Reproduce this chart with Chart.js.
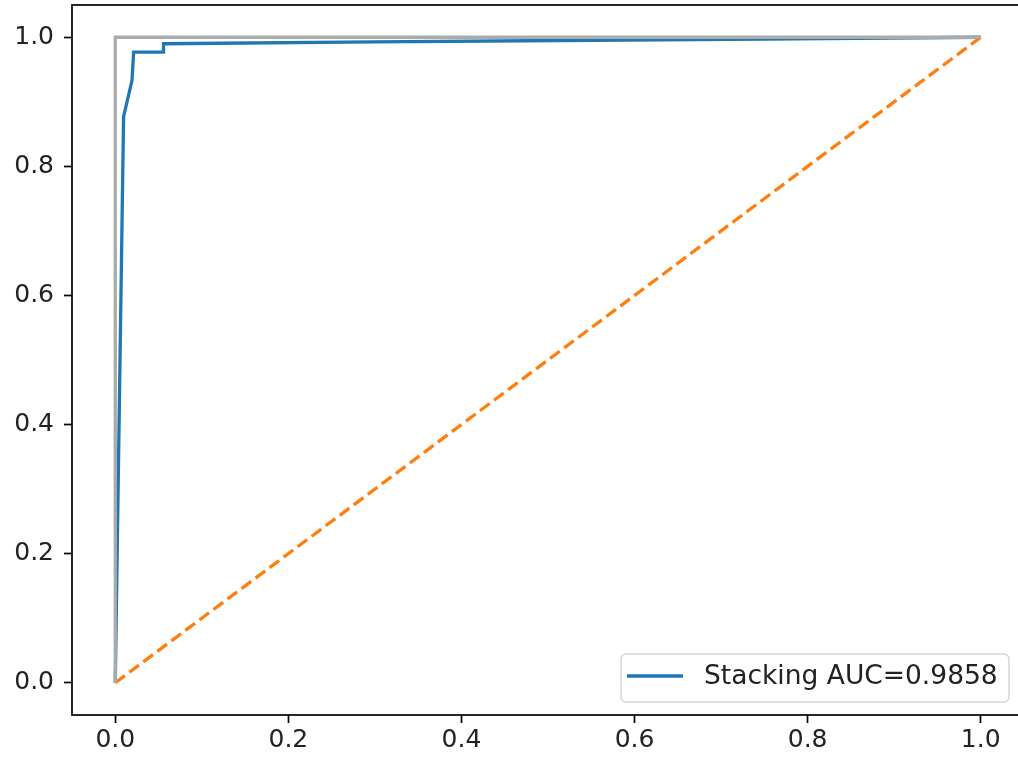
<!DOCTYPE html>
<html lang="en">
<head>
  <meta charset="UTF-8">
  <title>ROC curve</title>
  <script src="https://cdn.jsdelivr.net/npm/chart.js"></script>
  <style>
    html, body {
      margin: 0;
      padding: 0;
      overflow: hidden;
      background: #fff;
    }
    #chart-container {
      position: relative;
      width: 1030px;
      height: 763px;
    }
  </style>
</head>
<body>
  <div id="chart-container">
    <canvas id="myChart"></canvas>
  </div>

  <script>
    // ROC curve of the stacking model
    const fpr = [0, 0.0096, 0.0193, 0.0212, 0.0558, 0.0558, 0.30, 0.514, 0.75, 1.0];
    const tpr = [0, 0.877, 0.933, 0.977, 0.977, 0.990, 0.993, 0.995, 0.997, 1.0];
    const rocLabel = 'Stacking AUC=0.9858';

    // chance diagonal and perfect classifier
    const diagX = [0, 1];
    const diagY = [0, 1];
    const perfectX = [0, 0, 1];
    const perfectY = [0, 1, 1];

    const tickValues = [0.0, 0.2, 0.4, 0.6, 0.8, 1.0];
    const tickLabels = ['0.0', '0.2', '0.4', '0.6', '0.8', '1.0'];

    const toPoints = (xs, ys) => xs.map((x, i) => ({ x: x, y: ys[i] }));

    const FONT = "'DejaVu Sans', sans-serif";

    // frame around the axes + legend in the lower right
    const framePlugin = {
      id: 'frame',
      afterDraw(chart) {
        const ctx = chart.ctx;
        const a = chart.chartArea;
        ctx.save();
        ctx.strokeStyle = '#000';
        ctx.lineWidth = 1.7;
        ctx.strokeRect(a.left, a.top, a.right - a.left, a.bottom - a.top);

        // legend box
        const ds = chart.data.datasets[2];
        const bx = 621, by = 654, bw = 388, bh = 48, r = 5;
        ctx.beginPath();
        ctx.moveTo(bx + r, by);
        ctx.arcTo(bx + bw, by, bx + bw, by + bh, r);
        ctx.arcTo(bx + bw, by + bh, bx, by + bh, r);
        ctx.arcTo(bx, by + bh, bx, by, r);
        ctx.arcTo(bx, by, bx + bw, by, r);
        ctx.closePath();
        ctx.fillStyle = 'rgba(255,255,255,0.8)';
        ctx.fill();
        ctx.strokeStyle = '#d6d6d6';
        ctx.lineWidth = 1.5;
        ctx.stroke();

        ctx.beginPath();
        ctx.moveTo(627, 676);
        ctx.lineTo(683, 676);
        ctx.strokeStyle = ds.borderColor;
        ctx.lineWidth = 3.3;
        ctx.stroke();

        ctx.fillStyle = '#222';
        ctx.font = '26.5px ' + FONT;
        ctx.textBaseline = 'middle';
        ctx.textAlign = 'left';
        ctx.fillText(ds.label, 704, 677);
        ctx.restore();
      }
    };

    const setTicks = (scale) => {
      scale.ticks = tickValues.map(v => ({ value: v }));
    };

    const axisTicks = {
      color: '#222',
      font: { family: FONT, size: 25 },
      callback: (value) => tickLabels[tickValues.indexOf(value)] ?? ''
    };

    const axisGrid = {
      display: true,
      drawOnChartArea: false,
      drawTicks: true,
      tickLength: 8,
      tickColor: '#000',
      tickWidth: 1.7
    };

    const noPad = (scale) => {
      scale.paddingTop = 0;
      scale.paddingBottom = 0;
      scale.paddingLeft = 0;
      scale.paddingRight = 0;
    };

    let ctx = document.getElementById('myChart').getContext('2d');
    let myChart = new Chart(ctx, {
      type: 'scatter',
      data: {
        datasets: [
          {
            label: 'perfect',
            data: toPoints(perfectX, perfectY),
            showLine: true,
            borderColor: '#ababab',
            borderWidth: 3.3,
            pointRadius: 0,
            order: 0
          },
          {
            label: 'chance',
            data: toPoints(diagX, diagY),
            showLine: true,
            borderColor: '#ff7f0e',
            borderWidth: 3.3,
            borderDash: [12, 5.5],
            pointRadius: 0,
            order: 1
          },
          {
            label: rocLabel,
            data: toPoints(fpr, tpr),
            showLine: true,
            borderColor: '#1f77b4',
            borderWidth: 3.3,
            pointRadius: 0,
            order: 2
          }
        ]
      },
      options: {
        responsive: true,
        maintainAspectRatio: false,
        animation: false,
        events: [],
        layout: { padding: { top: 5, right: 6, left: 0, bottom: 0 } },
        plugins: {
          legend: { display: false },
          tooltip: { enabled: false }
        },
        scales: {
          x: {
            type: 'linear',
            min: -0.05,
            max: 1.05,
            afterBuildTicks: setTicks,
            afterFit: (scale) => { scale.height = 48; noPad(scale); },
            border: { display: false },
            grid: axisGrid,
            ticks: Object.assign({ padding: 2, maxRotation: 0 }, axisTicks)
          },
          y: {
            type: 'linear',
            min: -0.05,
            max: 1.05,
            afterBuildTicks: setTicks,
            afterFit: (scale) => { scale.width = 72; noPad(scale); },
            border: { display: false },
            grid: axisGrid,
            ticks: Object.assign({ padding: 10 }, axisTicks)
          }
        }
      },
      plugins: [framePlugin]
    });
  </script>
</body>
</html>
